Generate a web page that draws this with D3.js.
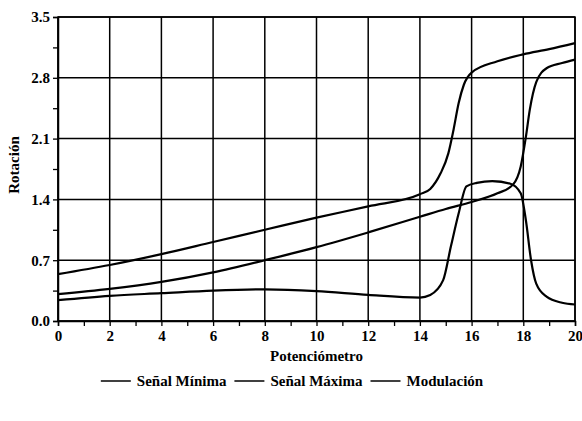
<!DOCTYPE html>
<html>
<head>
<meta charset="utf-8">
<script src="https://cdn.jsdelivr.net/npm/d3@7"></script>
<style>
  body { margin: 0; background: #fff; }
  text { font-family: "Liberation Serif", serif; font-weight: bold; fill: #000; }
</style>
</head>
<body>
<script>
// values
var minimaX = [0, 2, 4, 6, 8, 10, 12, 14, 15, 16, 17, 17.6, 17.9, 18.1, 18.25, 18.5, 18.9, 19.5, 20];
var minimaY = [0.31, 0.37, 0.45, 0.56, 0.70, 0.85, 1.02, 1.20, 1.29, 1.37, 1.47, 1.57, 1.78, 2.12, 2.43, 2.75, 2.91, 2.97, 3.01];

var maximaX = [0, 2, 4, 6, 8, 10, 12, 14, 14.4, 14.8, 15.1, 15.3, 15.5, 15.7, 16, 17, 18, 19, 20];
var maximaY = [0.54, 0.645, 0.77, 0.91, 1.05, 1.19, 1.32, 1.46, 1.52, 1.70, 1.93, 2.2, 2.51, 2.72, 2.86, 2.99, 3.07, 3.13, 3.20];

var moduX = [0, 2, 4, 6, 8, 10, 12, 14, 14.4, 14.9, 15.2, 15.5, 15.8, 16.2, 16.8, 17.5, 17.9, 18.1, 18.3, 18.5, 18.9, 19.5, 20];
var moduY = [0.24, 0.29, 0.32, 0.35, 0.365, 0.345, 0.30, 0.27, 0.30, 0.47, 0.86, 1.24, 1.55, 1.59, 1.61, 1.58, 1.47, 1.16, 0.70, 0.43, 0.28, 0.21, 0.19];

var seriesNames = ["Señal Mínima", "Señal Máxima", "Modulación"];
var xTicks = [0, 2, 4, 6, 8, 10, 12, 14, 16, 18, 20];
var yTicks = [0.0, 0.7, 1.4, 2.1, 2.8, 3.5];

var margin = {top: 17, right: 7, bottom: 100, left: 58},
    width = 582 - margin.left - margin.right,
    height = 421 - margin.top - margin.bottom;

var svg = d3.select("body").append("svg")
    .attr("width", 582)
    .attr("height", 421)
  .append("g")
    .attr("transform", "translate(" + margin.left + "," + margin.top + ")");

var x = d3.scaleLinear().domain([0, 20]).range([0, width]);
var y = d3.scaleLinear().domain([0, 3.5]).range([height, 0]);

// grid
svg.append("g").selectAll("line.vx")
    .data(xTicks)
  .enter().append("line")
    .attr("x1", d => x(d)).attr("x2", d => x(d))
    .attr("y1", 0).attr("y2", height)
    .attr("stroke", "#000").attr("stroke-width", 1.5);

svg.append("g").selectAll("line.hy")
    .data(yTicks)
  .enter().append("line")
    .attr("x1", 0).attr("x2", width)
    .attr("y1", d => y(d)).attr("y2", d => y(d))
    .attr("stroke", "#000").attr("stroke-width", 1.5);

// axes (minor ticks too)
var xAxis = d3.axisBottom(x).tickValues(d3.range(0, 21, 1)).tickSize(5)
    .tickFormat(d => d % 2 === 0 ? d : "");
var yAxis = d3.axisLeft(y).tickValues(d3.range(0, 3.51, 0.35)).tickSize(5)
    .tickFormat(d => yTicks.some(t => Math.abs(t - d) < 1e-6) ? d.toFixed(1) : "");

var gx = svg.append("g")
    .attr("transform", "translate(0," + height + ")")
    .call(xAxis);
var gy = svg.append("g").call(yAxis);

[gx, gy].forEach(function(g) {
  g.select(".domain").attr("stroke-width", 1.5);
  g.selectAll(".tick line").attr("stroke-width", 1.3);
  g.selectAll(".tick text")
      .style("font-family", "Liberation Serif")
      .style("font-weight", "bold")
      .style("font-size", "15px");
});
gx.selectAll(".tick text").attr("dy", "0.95em").attr("y", 6);
gy.selectAll(".tick text").attr("x", -8);

// frame
svg.append("rect")
    .attr("width", width).attr("height", height)
    .attr("fill", "none").attr("stroke", "#000").attr("stroke-width", 1.5);

// curves
var line = d3.line()
    .x(d => x(d[0]))
    .y(d => y(d[1]))
    .curve(d3.curveMonotoneX);

var series = [
  d3.zip(minimaX, minimaY),
  d3.zip(maximaX, maximaY),
  d3.zip(moduX, moduY)
];

svg.selectAll("path.serie")
    .data(series)
  .enter().append("path")
    .attr("class", "serie")
    .attr("d", line)
    .attr("fill", "none")
    .attr("stroke", "#000")
    .attr("stroke-width", 2.2);

// axis titles
svg.append("text")
    .attr("x", width / 2)
    .attr("y", height + 40)
    .attr("text-anchor", "middle")
    .style("font-size", "15px")
    .text("Potenciómetro");

svg.append("text")
    .attr("transform", "translate(" + (-39) + "," + (165 - margin.top) + ") rotate(-90)")
    .attr("text-anchor", "middle")
    .style("font-size", "15px")
    .text("Rotación");

// legend
var legend = svg.append("g").attr("class", "legend");
var lx = 0;
seriesNames.forEach(function(name) {
  var item = legend.append("g").attr("transform", "translate(" + lx + ",0)");
  item.append("line")
      .attr("x1", 0).attr("x2", 30)
      .attr("y1", 0).attr("y2", 0)
      .attr("stroke", "#000").attr("stroke-width", 1.5);
  var t = item.append("text")
      .attr("x", 36).attr("y", 5)
      .style("font-size", "15px")
      .text(name);
  lx += 36 + t.node().getComputedTextLength() + 8;
});
legend.attr("transform", "translate(" + (292 - margin.left - (lx - 8) / 2) + "," + (381 - margin.top) + ")");
</script>
</body>
</html>
